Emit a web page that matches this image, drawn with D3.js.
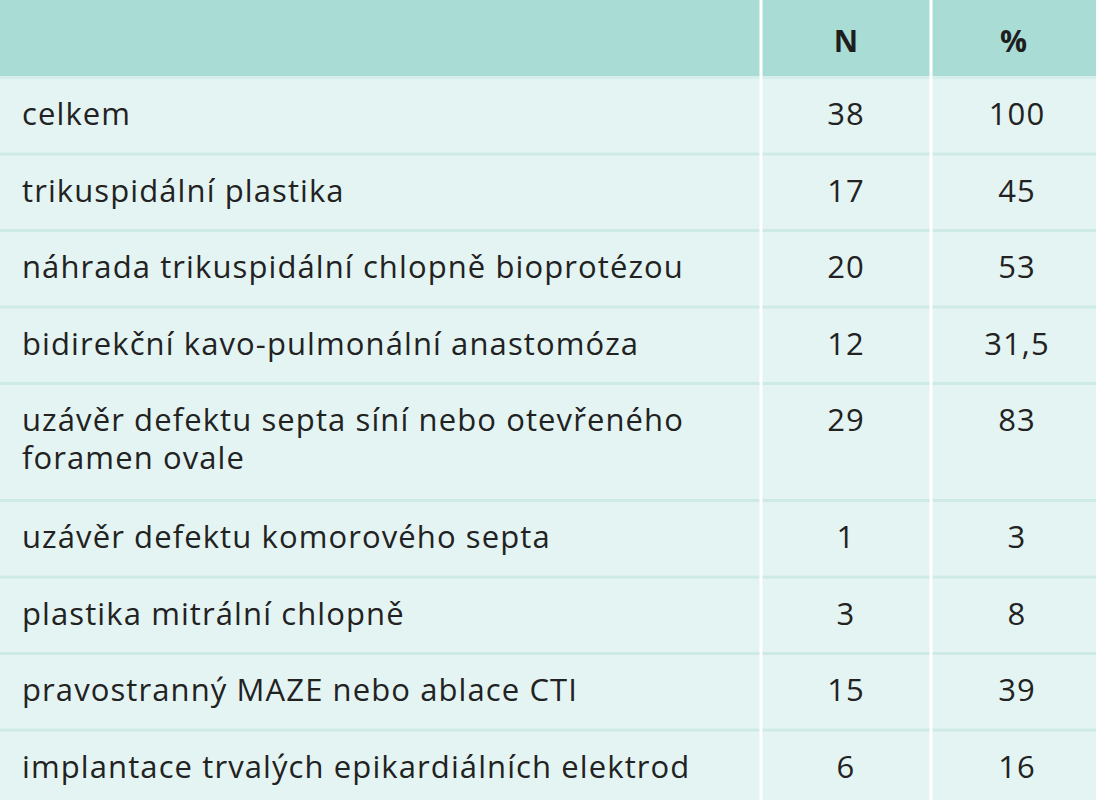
<!DOCTYPE html>
<html><head><meta charset="utf-8">
<script src="https://cdn.jsdelivr.net/npm/d3@7"></script>
<style>body{margin:0;background:#fff}</style>
</head><body>
<svg id="t" width="1096" height="800"></svg>
<script>
var labels = [['celkem'], ['trikuspidální plastika'], ['náhrada trikuspidální chlopně bioprotézou'],
  ['bidirekční kavo-pulmonální anastomóza'], ['uzávěr defektu septa síní nebo otevřeného', 'foramen ovale'],
  ['uzávěr defektu komorového septa'], ['plastika mitrální chlopně'], ['pravostranný MAZE nebo ablace CTI'],
  ['implantace trvalých epikardiálních elektrod']];
var nValues = ['38', '17', '20', '12', '29', '1', '3', '15', '6'];
var pctValues = ['100', '45', '53', '31,5', '83', '3', '8', '39', '16'];
var headers = ['', 'N', '%'];

var svg = d3.select('#t');
var colX = [0, 761, 931, 1096];
var rowH = labels.map(function (d) { return d.length > 1 ? 117 : 76.5; });
var tops = [76];
rowH.forEach(function (h, i) { tops.push(tops[i] + h); });

// header
svg.append('rect').attr('width', 1096).attr('height', 76).attr('fill', '#a8dcd5');
headers.forEach(function (h, i) {
  if (!h) return;
  svg.append('text').attr('x', (colX[i] + colX[i + 1]) / 2).attr('y', 52)
    .attr('text-anchor', 'middle').attr('font-family', 'Open Sans, sans-serif')
    .attr('font-size', 30).attr('font-weight', 'bold').attr('fill', '#1e1e1e').text(h);
});

var rows = svg.selectAll('g.row').data(labels).enter().append('g')
  .attr('transform', function (d, i) { return 'translate(0,' + tops[i] + ')'; });
rows.append('rect').attr('width', 1096).attr('height', function (d, i) { return rowH[i]; }).attr('fill', '#e4f4f2');
rows.append('rect').attr('width', 1096).attr('height', 3).attr('fill', function (d, i) { return i ? '#cdeae6' : '#d6efec'; });

var font = function (s) {
  return s.attr('font-family', 'Open Sans, sans-serif').attr('font-size', 31)
    .attr('letter-spacing', 1.1).attr('fill', '#222');
};
rows.each(function (d, i) {
  var g = d3.select(this);
  d.forEach(function (line, j) {
    font(g.append('text')).attr('x', 22).attr('y', 49 + j * 38).text(line);
  });
  font(g.append('text')).attr('x', 846).attr('y', 49).attr('text-anchor', 'middle').text(nValues[i]);
  font(g.append('text')).attr('x', 1017).attr('y', 49).attr('text-anchor', 'middle').text(pctValues[i]);
});

[761, 931].forEach(function (x) {
  svg.append('rect').attr('x', x - 1.5).attr('y', 0).attr('width', 3).attr('height', 800).attr('fill', '#fff');
});
</script>
</body></html>
